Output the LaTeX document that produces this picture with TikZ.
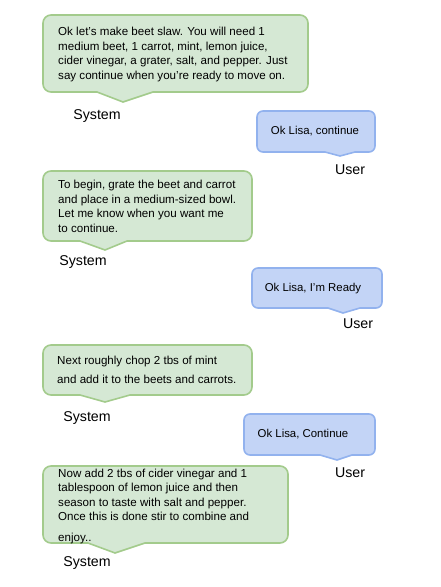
\documentclass[tikz,border=0pt]{standalone}
\usepackage{fontspec}
\setmainfont{Liberation Sans}
\usepackage{tikz}
\definecolor{sysfill}{HTML}{D5E8D4}
\definecolor{sysline}{HTML}{A3CB8C}
\definecolor{userfill}{HTML}{C3D4F6}
\definecolor{userline}{HTML}{92B2EE}
\tikzset{bubble/.style={line width=1.6pt,line join=round}}
\tikzset{sysmsg/.style={bubble,fill=sysfill,draw=sysline}}
\tikzset{usermsg/.style={bubble,fill=userfill,draw=userline}}
\tikzset{systext/.style={anchor=west,inner sep=0pt,align=left,
                         font=\fontsize{11.6}{14.5}\selectfont}}
\tikzset{usertext/.style={inner sep=0pt,font=\fontsize{11.4}{13}\selectfont}}
\tikzset{speaker/.style={inner sep=0pt,font=\fontsize{14.2}{16}\selectfont}}

\begin{document}
\begin{tikzpicture}[x=1pt,y=-1pt]

    \useasboundingbox (0,0) rectangle (441,587);

    % system 1
    \draw[sysmsg] (123,102) -- (153,92) [rounded corners=8pt] -- (308,92) -- (308,15)
        -- (43,15) -- (43,92) [sharp corners] -- (97,92) -- cycle;
    \node[systext] (m1) at (58,54.5) {Ok let's make beet slaw. You will need 1\\
        medium beet, 1 carrot, mint, lemon juice,\\
        cider vinegar, a grater, salt, and pepper. Just\\
        say continue when you're ready to move on.};
    \node[speaker] (s1) at (97,116) {System};

    % user 1
    \draw[usermsg] (340,156) -- (355,152) [rounded corners=6pt] -- (375,152) -- (375,111)
        -- (257,111) -- (257,152) [sharp corners] -- (325,152) -- cycle;
    \node[usertext] (m2) at (315,131) {Ok Lisa, continue};
    \node[speaker] (u1) at (350,170) {User};

    % system 2
    \draw[sysmsg] (105,250) -- (127,241) [rounded corners=8pt] -- (252,241) -- (252,171)
        -- (43,171) -- (43,241) [sharp corners] -- (80,241) -- cycle;
    \node[systext] (m3) at (58,206.5) {To begin, grate the beet and carrot\\
        and place in a medium-sized bowl.\\
        Let me know when you want me\\
        to continue.};
    \node[speaker] (s2) at (83,262) {System};

    % user 2
    \draw[usermsg] (343,313) -- (360,308) [rounded corners=6pt] -- (382,308) -- (382,268)
        -- (252,268) -- (252,308) [sharp corners] -- (328,308) -- cycle;
    \node[usertext] (m4) at (313,289) {Ok Lisa, I'm Ready};
    \node[speaker] (u2) at (358,324) {User};

    % system 3
    \draw[sysmsg] (105,402) -- (130,395) [rounded corners=8pt] -- (252,395) -- (252,345)
        -- (43,345) -- (43,395) [sharp corners] -- (80,395) -- cycle;
    \node[systext] (m5) at (57,369.5) {Next roughly chop 2 tbs of mint\\[4.5pt]
        and add it to the beets and carrots.};
    \node[speaker] (s3) at (87,418) {System};

    % user 3
    \draw[usermsg] (337,460) -- (352,455) [rounded corners=6pt] -- (375,455) -- (375,414)
        -- (244,414) -- (244,455) [sharp corners] -- (320,455) -- cycle;
    \node[usertext] (m6) at (303,434) {Ok Lisa, Continue};
    \node[speaker] (u3) at (350,473) {User};

    % system 4
    \draw[sysmsg] (115,553) -- (145,543) [rounded corners=8pt] -- (288,543) -- (288,466)
        -- (43,466) -- (43,543) [sharp corners] -- (88,543) -- cycle;
    \node[systext] (m7) at (58,506.5) {Now add 2 tbs of cider vinegar and 1\\
        tablespoon of lemon juice and then\\
        season to taste with salt and pepper.\\
        Once this is done stir to combine and\\[6.5pt]
        enjoy..};
    \node[speaker] (s4) at (87,563) {System};

\end{tikzpicture}
\end{document}
